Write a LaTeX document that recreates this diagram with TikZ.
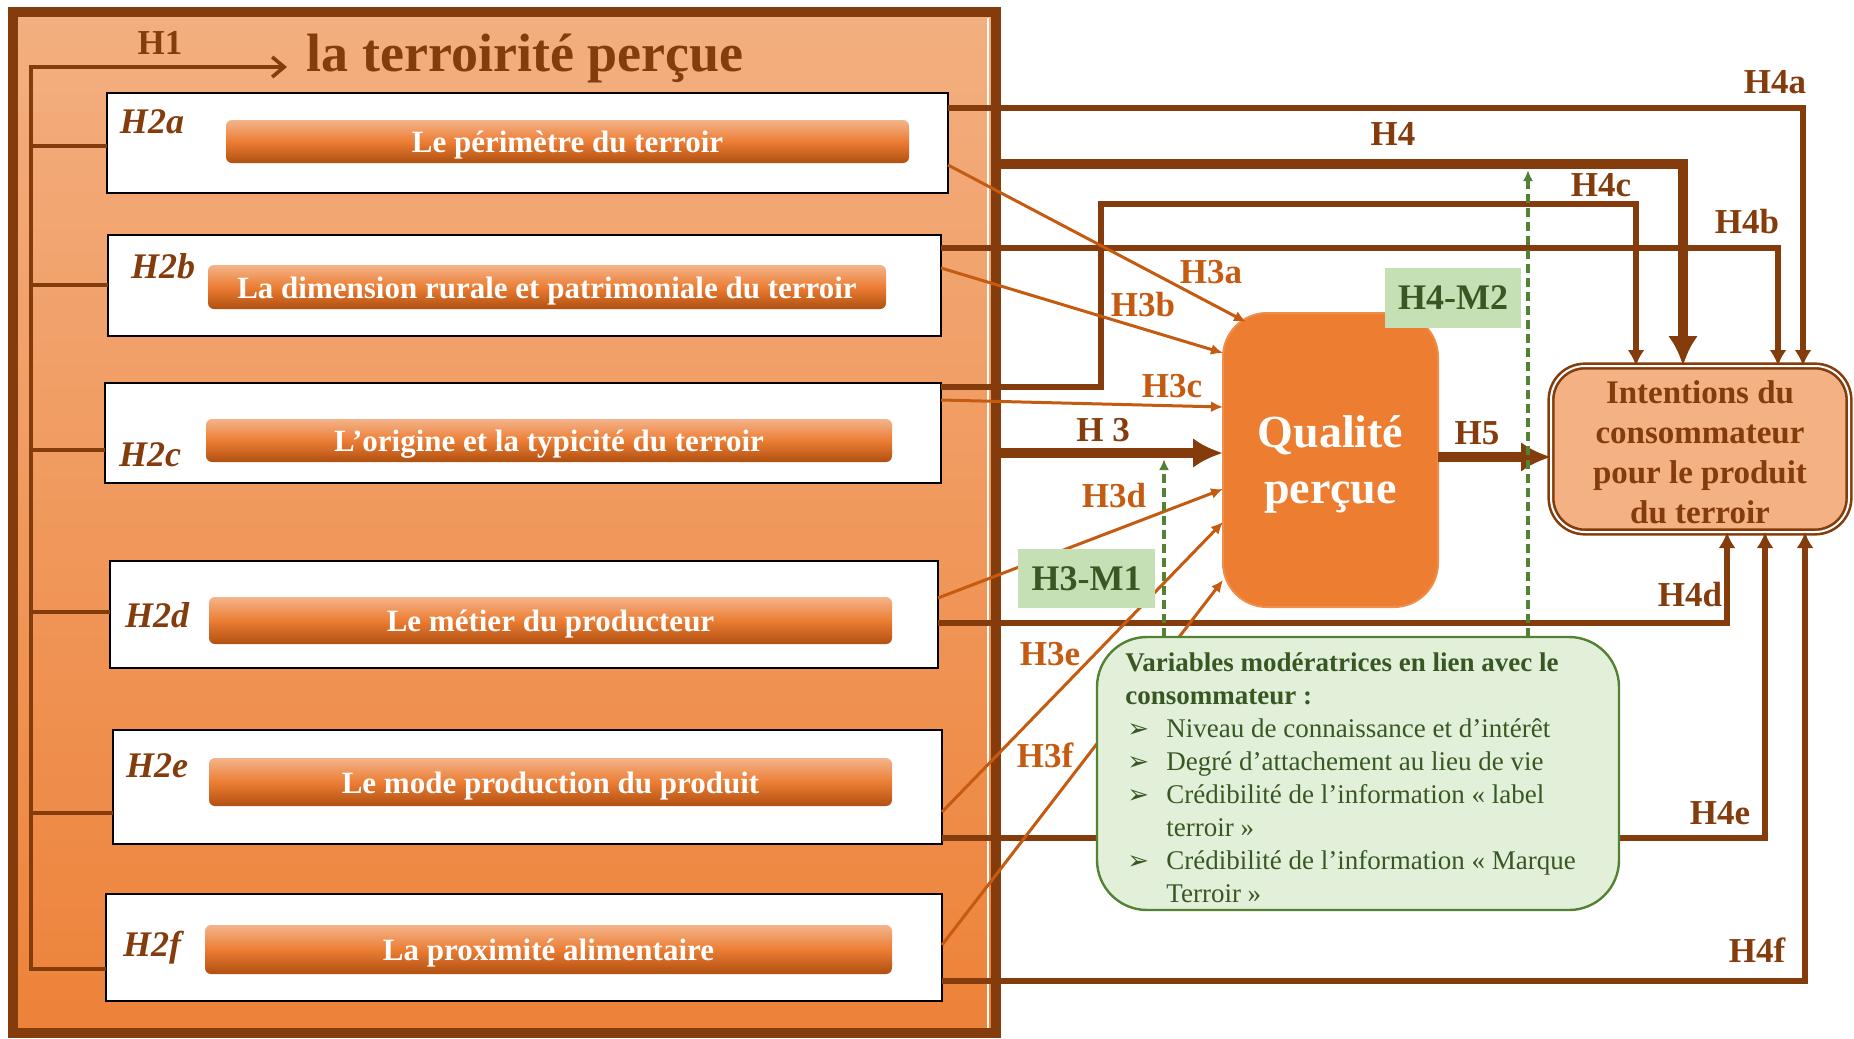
\documentclass[tikz,border=0pt]{standalone}
\usepackage{fontspec}
\setmainfont{Liberation Serif}
\newfontfamily\symfont{DejaVu Sans}
\usetikzlibrary{arrows.meta,fit}

\definecolor{brn}{HTML}{843C0C}
\definecolor{org}{HTML}{C55A11}
\definecolor{qual}{HTML}{ED7D31}
\definecolor{peach}{HTML}{F4B183}
\definecolor{lgreen}{HTML}{C5E0B4}
\definecolor{vgreen}{HTML}{E2F0D9}
\definecolor{dgreen}{HTML}{385723}
\definecolor{mgreen}{HTML}{548235}
\definecolor{ptop}{RGB}{243,175,128}
\definecolor{pbot}{RGB}{237,130,57}
\definecolor{bartop}{RGB}{244,180,138}
\definecolor{barmid}{RGB}{236,125,52}
\definecolor{barbot}{RGB}{176,80,16}

\newcommand\vbul{\makebox[20.5pt][l]{\hspace{1pt}{\symfont\fontsize{13}{13}\selectfont ➢}}}

\begin{document}
\begin{tikzpicture}[x=0.5pt,y=-0.5pt,
  fitbox/.style={inner sep=0pt, outer sep=0pt},
  whitebox/.style={fitbox, draw=black, line width=1.2pt, fill=white},
  bar/.style={fitbox, rounded corners=3pt, top color=bartop, bottom color=barbot, middle color=barmid},
  bartext/.style={text=white, inner sep=0pt, font=\bfseries\fontsize{15.5}{18}\selectfont},
  hlab/.style={font=\bfseries\fontsize{17.5}{20}\selectfont, text=brn, inner sep=0pt},
  olab/.style={hlab, text=org},
  h2lab/.style={font=\bfseries\itshape\fontsize{18}{20}\selectfont, text=brn, inner sep=0pt},
  conn/.style={draw=brn, line width=2.2pt},
  h4line/.style={draw=brn, line width=2.6pt, -{Latex[length=8pt,width=8.5pt]}},
  h3line/.style={draw=org, line width=1.5pt, -{Latex[length=6pt,width=5.5pt]}},
  bigarrow/.style={draw=brn, line width=5pt, -{Latex[length=15pt,width=15pt]}},
  dasharrow/.style={draw=mgreen, line width=1.7pt, dash pattern=on 4.5pt off 2.5pt, -{Latex[length=5.5pt,width=5pt]}},
  greenbox/.style={fitbox, fill=lgreen},
  greentext/.style={inner sep=0pt, text=dgreen, font=\bfseries\fontsize{18}{20}\selectfont}
]
\useasboundingbox (0,0) rectangle (1854,1039);

% left panel
\node[fitbox, draw=brn, line width=5pt, top color=ptop, bottom color=pbot, fit={(13,12) (996,1033)}] (panel) {};
\draw[white, line width=0.8pt] (988,18) -- (988,1028);

\node[font=\bfseries\fontsize{27}{30}\selectfont, text=brn, anchor=base] (title) at (525,71) {la terroirité perçue};
\node[hlab] (h1) at (160,43) {H1};

% white boxes
\node[whitebox, fit={(107,93) (948,193)}] (b1) {};
\node[whitebox, fit={(108,235) (941,336)}] (b2) {};
\node[whitebox, fit={(105,383) (941,483)}] (b3) {};
\node[whitebox, fit={(110,561) (938,668)}] (b4) {};
\node[whitebox, fit={(113,730) (942,844)}] (b5) {};
\node[whitebox, fit={(106,894) (942,1001)}] (b6) {};

% bars
\node[bar, fit={(226,120) (909,163)}] (r1) {};
\node[bar, fit={(208,265) (886,309)}] (r2) {};
\node[bar, fit={(206,419) (892,462)}] (r3) {};
\node[bar, fit={(209,597) (892,644)}] (r4) {};
\node[bar, fit={(209,758) (892,806)}] (r5) {};
\node[bar, fit={(205,925) (892,974)}] (r6) {};
\node[bartext, anchor=base] (t1) at ([yshift=-5.5pt]r1.center) {Le périmètre du terroir};
\node[bartext, anchor=base] (t2) at ([yshift=-5.5pt]r2.center) {La dimension rurale et patrimoniale du terroir};
\node[bartext, anchor=base] (t3) at ([yshift=-5.5pt]r3.center) {L’origine et la typicité du terroir};
\node[bartext, anchor=base] (t4) at ([yshift=-5.5pt]r4.center) {Le métier du producteur};
\node[bartext, anchor=base] (t5) at ([yshift=-5.5pt]r5.center) {Le mode production du produit};
\node[bartext, anchor=base] (t6) at ([yshift=-5.5pt]r6.center) {La proximité alimentaire};

% H2 labels
\node[h2lab] (l2a) at (152,122) {H2a};
\node[h2lab] (l2b) at (163,266) {H2b};
\node[h2lab] (l2c) at (150,455) {H2c};
\node[h2lab] (l2d) at (157,615) {H2d};
\node[h2lab] (l2e) at (157,766) {H2e};
\node[h2lab] (l2f) at (152,948) {H2f};

% spine and H1
\coordinate (sp) at (31,67);
\coordinate (spb) at (31,969);
\coordinate (h1tip) at (287,67);
\draw[conn, line cap=rect] (sp) -- (spb);
\draw[draw=brn, line width=1.8pt, -{Straight Barb[length=6pt,width=10pt]}] (sp) -- (h1tip);
\draw[conn] (sp |- 0,146) -- (b1.west |- 0,146);
\draw[conn] (sp |- 0,285) -- (b2.west |- 0,285);
\draw[conn] (sp |- 0,450) -- (b3.west |- 0,450);
\draw[conn] (sp |- 0,612) -- (b4.west |- 0,612);
\draw[conn] (sp |- 0,813) -- (b5.west |- 0,813);
\draw[conn] (spb) -- (b6.west |- spb);

% right-side nodes
\node[fitbox, rounded corners=22pt, fill=qual, draw=qual!70!peach, line width=1pt, fit={(1223,313) (1438,607)}] (q) {};
\node[inner sep=0pt, text=white, font=\bfseries\fontsize{23}{28}\selectfont, align=center] (qt) at ([yshift=-2pt]q.center) {Qualité\\perçue};
\node[fitbox, rounded corners=17pt, fill=peach, draw=brn, line width=1.3pt, double=white, double distance=1pt, fit={(1551,366) (1849,532)}] (int) {};
\node[inner sep=0pt, text=brn, font=\bfseries\fontsize{16.5}{20}\selectfont, align=center] (intt) at ([yshift=-1.5pt]int.center) {Intentions du\\consommateur\\pour le produit\\du terroir};

% H4 lines
\draw[h4line] (b1.east |- 0,108) -| (int.north -| 1803,0);
\draw[h4line] (b2.east |- 0,248) -| (int.north -| 1778,0);
\coordinate (c4a) at (1101,387);
\coordinate (c4b) at (1101,204);
\draw[h4line] (b3.east |- 0,387) -- (c4a) -- (c4b) -| (int.north -| 1636,0);
\draw[bigarrow] (panel.east |- 0,164) -| (int.north -| 1683,0);
\draw[h4line] (b4.east |- 0,623) -| (int.south -| 1727,0);
\draw[h4line] (b5.east |- 0,838) -| (int.south -| 1765,0);
\draw[h4line] (b6.east |- 0,981) -| (int.south -| 1805,0);

% H3 lines
\draw[h3line] (b1.east |- 0,165) -- ([shift={(23,9)}]q.north west);
\draw[h3line] (b2.east |- 0,268) -- (q.west |- 0,353);
\draw[h3line] (b3.east |- 0,400) -- (q.west |- 0,407);
\draw[h3line] (b4.east |- 0,598) -- (q.west |- 0,489);
\draw[h3line] (b5.east |- 0,812) -- (q.west |- 0,522);
\draw[h3line] (b6.east |- 0,945) -- (q.west |- 0,580);
\draw[bigarrow] (panel.east |- 0,453) -- (q.west |- 0,453);
\draw[bigarrow] (q.east |- 0,457) -- (int.west |- 0,457);

% moderator boxes
\node[greenbox, fit={(1018,549) (1155,608)}] (m1) {};
\node[greentext] (m1t) at (m1.center) {H3-M1};
\node[greenbox, fit={(1385,268) (1521,328)}] (m2) {};
\node[greentext] (m2t) at (m2.center) {H4-M2};
\node[fitbox, rounded corners=25pt, fill=vgreen, draw=mgreen, line width=1.2pt, fit={(1097,637) (1619,910)}] (var) {};
\node[anchor=north west, inner sep=0pt, text=dgreen, font=\fontsize{13.5}{16.5}\selectfont, align=left] (vartext) at (1125,652) {\textbf{Variables modératrices en lien avec le}\\\textbf{consommateur :}\\\vbul Niveau de connaissance et d’intérêt\\\vbul Degré d’attachement au lieu de vie\\\vbul Crédibilité de l’information « label\\\hspace*{20.5pt}terroir »\\\vbul Crédibilité de l’information « Marque\\\hspace*{20.5pt}Terroir »};

\coordinate (m1tip) at (1164,459);
\coordinate (m2tip) at (1528,170);
\draw[dasharrow] (var.north -| m1tip) -- (m1tip);
\draw[dasharrow] (var.north -| m2tip) -- (m2tip);

% labels
\node[hlab] (lh4a) at (1775,82) {H4a};
\node[hlab] (lh4) at (1393,134) {H4};
\node[hlab] (lh4c) at (1601,185) {H4c};
\node[hlab] (lh4b) at (1747,222) {H4b};
\node[olab] (lh3a) at (1211,272) {H3a};
\node[olab] (lh3b) at (1143,305) {H3b};
\node[olab] (lh3c) at (1172,386) {H3c};
\node[hlab] (lh3) at (1103,430) {H 3};
\node[olab] (lh3d) at (1114,496) {H3d};
\node[hlab] (lh5) at (1477,433) {H5};
\node[hlab] (lh4d) at (1690,595) {H4d};
\node[olab] (lh3e) at (1050,654) {H3e};
\node[olab] (lh3f) at (1045,755) {H3f};
\node[hlab] (lh4e) at (1720,813) {H4e};
\node[hlab] (lh4f) at (1757,950) {H4f};
\end{tikzpicture}
\end{document}
